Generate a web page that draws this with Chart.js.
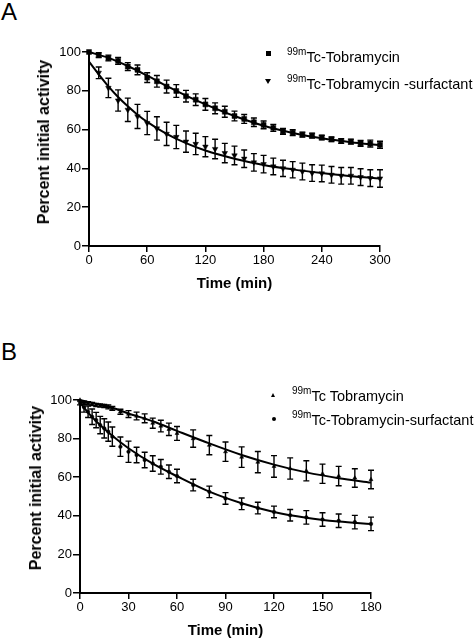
<!DOCTYPE html>
<html><head><meta charset="utf-8">
<script src="https://cdn.jsdelivr.net/npm/chart.js@4.4.1/dist/chart.umd.min.js"></script>
<style>
html,body{margin:0;padding:0;background:#fff;}
body{width:474px;height:640px;position:relative;overflow:hidden;font-family:'Liberation Sans',Arial,sans-serif;color:#000;}
canvas{position:absolute;left:0;}
.panel{position:absolute;left:1px;font-size:24px;line-height:24px;}
.leg{position:absolute;font-size:14.5px;line-height:15px;white-space:nowrap;}
.leg span{font-size:10px;position:relative;top:-7px;}
.mk{position:absolute;width:0;height:0;}
.ytitle{position:absolute;font-size:16px;font-weight:bold;line-height:16px;white-space:nowrap;transform:translate(-50%,-50%) rotate(-90deg);}
</style></head><body>
<div class="panel" style="top:0px">A</div>
<canvas id="cA" width="474" height="300" style="top:0px"></canvas>
<div class="ytitle" style="left:44px;top:142px">Percent initial activity</div>
<div class="mk" style="left:265.5px;top:50.5px;width:5px;height:5px;background:#000"></div>
<div class="leg" style="left:287px;top:49.5px"><span>99m</span>Tc-Tobramycin</div>
<div class="mk" style="left:265px;top:79px;border-left:3px solid transparent;border-right:3px solid transparent;border-top:5px solid #000"></div>
<div class="leg" style="left:287px;top:77px"><span>99m</span>Tc-Tobramycin -surfactant</div>

<div class="panel" style="top:340px">B</div>
<canvas id="cB" width="474" height="310" style="top:330px"></canvas>
<div class="ytitle" style="left:36px;top:488px">Percent initial activity</div>
<div class="mk" style="left:271px;top:393px;border-left:2.5px solid transparent;border-right:2.5px solid transparent;border-bottom:4px solid #000"></div>
<div class="leg" style="left:292px;top:389px"><span>99m</span>Tc Tobramycin</div>
<div class="mk" style="left:271.5px;top:416.5px;width:4px;height:4px;border-radius:50%;background:#000"></div>
<div class="leg" style="left:292px;top:412.5px"><span>99m</span>Tc-Tobramycin-surfactant</div>

<script>
// ---------- Panel A data ----------
const timeA = [0,10,20,30,40,50,60,70,80,90,100,110,120,130,140,150,160,170,180,190,200,210,220,230,240,250,260,270,280,290,300];
const tobraA = [100,98.4,96.9,95.4,92.5,90.8,86.8,84.9,82.2,79.9,77.2,75.4,73.0,71.0,69.2,67.0,65.5,63.8,62.4,60.9,59.1,58.4,57.4,56.9,55.9,55.0,54.1,53.8,52.9,52.8,52.2];
const tobraA_sd = [0,1.2,1.5,1.8,2,2.5,2.5,3,3.3,3.3,3,3,3,2.8,2.8,2.5,2.3,2.2,2,1.8,1.5,1.5,1.3,1.3,1.2,1.2,1.2,1.3,1.5,1.8,1.8];
const surfA = [null,89.3,81.5,75.0,70.2,66.8,63.4,60.6,57.8,56.2,53.8,52.6,51.2,50.0,47.9,46.7,45.0,43.1,42.2,41.0,40.0,39.3,38.4,37.6,37.4,36.7,36.2,36.2,35.5,35.0,34.8];
const surfA_sd = [0,3,5,5.5,6,6.2,6,6,6,6,5.5,5.5,5.2,5,5,4.8,4.5,4.5,4.5,4.3,4.2,4.2,4.3,4.3,4.3,4.3,4.3,4.3,4.3,4.3,4.5];
const fitTimeA1 = [0,20,40,60,80,100,120,150,180,210,240,270,300];
const fitTobraA = [100,97,92.8,87.8,82.5,77.5,73,67,62,58.3,55.5,53.5,52];
const fitTimeA2 = [0,10,20,30,40,50,60,80,100,120,150,180,210,240,270,300];
const fitSurfA = [95,88.5,82.3,76.8,72,67.7,64,57.8,53,49.2,45,41.8,39.5,37.6,36,34.8];
const xTicksA = [0,60,120,180,240,300];

// ---------- Panel B data ----------
const timeB = [0,2.5,5,7.5,10,12.5,15,17.5,20,25,30,35,40,45,50,55,60,70,80,90,100,110,120,130,140,150,160,170,180];
const tobraB = [100,98.6,98.3,97.9,97.4,97.1,96.9,96.4,95.7,93.9,92.7,91.7,90.5,88.0,86.5,84.8,82.7,80.0,76.6,73.2,70.4,67.8,65.6,64.5,63.3,61.8,60.6,59.6,58.8];
const tobraB_sd = [0,0.8,0.8,0.8,0.8,0.8,0.8,1,1,1.3,1.8,2,2.3,2.6,3,3.2,3.6,4.5,5,5,5.3,5.5,5.6,5.5,5.2,5,5,4.8,4.8];
const surfB = [98.5,96.2,93.9,91.3,89.6,87.0,85.3,83.6,81.0,75.8,73.2,71.5,68.9,67.1,65.4,62.8,60.6,55.9,52.4,49.0,46.2,44.0,42.0,40.3,39.2,38.1,37.4,36.7,35.8];
const surfB_sd = [1,2.5,3,4,4,4.5,5,5,5,5,5.5,4,4,4,3.8,3.5,3.5,3,3,3,3,3,3,3,3.5,3.5,3.5,3.5,3.5];
const fitTimeB1 = [0,10,20,30,45,60,80,100,120,140,160,180];
const fitTobraB = [100,98,96,93,89,84,77.5,71.5,66.5,62.5,59.5,57.2];
const fitTimeB2 = [0,5,10,20,30,45,60,80,100,120,140,160,180];
const fitSurfB = [98.5,93.5,89,81.5,75,67,60.5,52.5,46.5,42,39,37,35.7];
const xTicksB = [0,30,60,90,120,150,180];

const yTicks = [0,20,40,60,80,100];

const F = "'Liberation Sans', Arial, sans-serif";

function pts(xs, ys, es) {
  const out = [];
  xs.forEach((x, i) => { if (ys[i] != null) out.push({x: x, y: ys[i], e: es ? es[i] : 0}); });
  return out;
}

const errorBars = {
  id: 'errorBars',
  afterDatasetsDraw(chart) {
    const ctx = chart.ctx, ys = chart.scales.y;
    chart.data.datasets.forEach((ds, di) => {
      if (!ds.errorBars) return;
      const meta = chart.getDatasetMeta(di);
      ctx.save();
      ctx.strokeStyle = '#000';
      ctx.lineWidth = 1.4;
      meta.data.forEach((el, i) => {
        const d = ds.data[i];
        if (!d.e) return;
        const x = el.x;
        const y1 = ys.getPixelForValue(d.y + d.e);
        const y2 = ys.getPixelForValue(d.y - d.e);
        const w = ds.capWidth;
        ctx.beginPath();
        ctx.moveTo(x, y1); ctx.lineTo(x, y2);
        ctx.moveTo(x - w, y1); ctx.lineTo(x + w, y1);
        ctx.moveTo(x - w, y2); ctx.lineTo(x + w, y2);
        ctx.stroke();
      });
      ctx.restore();
    });
  }
};

function scales(xTicks, xMax, yW, xH, xTitlePad) {
  return {
    x: {
      type: 'linear', min: 0, max: xMax,
      afterBuildTicks: s => { s.ticks = xTicks.map(v => ({value: v})); },
      afterFit: s => { s.height = xH; },
      ticks: {color: '#000', font: {family: F, size: 13}, padding: 1, maxRotation: 0, autoSkip: false},
      grid: {drawOnChartArea: false, color: '#000', lineWidth: 1.5, tickLength: 6},
      border: {color: '#000', width: 2},
      title: {display: true, text: 'Time (min)', color: '#000', font: {family: F, size: 15, weight: 'bold'}, padding: {top: 0, bottom: xTitlePad}}
    },
    y: {
      type: 'linear', min: 0, max: 100,
      afterBuildTicks: s => { s.ticks = yTicks.map(v => ({value: v})); },
      afterFit: s => { s.width = yW; },
      ticks: {color: '#000', font: {family: F, size: 13}, padding: 1},
      grid: {drawOnChartArea: false, color: '#000', lineWidth: 1.5, tickLength: 7},
      border: {color: '#000', width: 2},
      title: {display: false}
    }
  };
}

function fitDs(xs, ys) {
  return {data: pts(xs, ys), showLine: true, pointRadius: 0, borderColor: '#000', borderWidth: 2,
          cubicInterpolationMode: 'monotone', fill: false, clip: false};
}
function ptDs(xs, ys, es, style, r, rot, cap) {
  return {data: pts(xs, ys, es), showLine: false, pointStyle: style, pointRadius: r, pointRotation: rot,
          pointBackgroundColor: '#000', pointBorderColor: '#000', pointBorderWidth: 0.5,
          errorBars: true, capWidth: cap, clip: false};
}

function baseOpts(pad, sc) {
  return {
    responsive: false, animation: false, devicePixelRatio: 1,
    layout: {padding: pad},
    plugins: {legend: {display: false}, tooltip: {enabled: false}},
    scales: sc
  };
}

new Chart(document.getElementById('cA'), {
  type: 'scatter',
  data: {datasets: [
    fitDs(fitTimeA1, fitTobraA),
    fitDs(fitTimeA2, fitSurfA),
    ptDs(timeA, tobraA, tobraA_sd, 'rect', 3.5, 0, 3),
    ptDs(timeA, surfA, surfA_sd, 'triangle', 3.2, 180, 3)
  ]},
  options: baseOpts({left: 0, right: 94, top: 52, bottom: 0}, scales(xTicksA, 300, 89, 54, 7)),
  plugins: [errorBars]
});

new Chart(document.getElementById('cB'), {
  type: 'scatter',
  data: {datasets: [
    fitDs(fitTimeB1, fitTobraB),
    fitDs(fitTimeB2, fitSurfB),
    ptDs(timeB, tobraB, tobraB_sd, 'triangle', 2.3, 0, 3),
    ptDs(timeB, surfB, surfB_sd, 'circle', 1.8, 0, 3)
  ]},
  options: baseOpts({left: 0, right: 103, top: 70, bottom: 0}, scales(xTicksB, 180, 80, 47, 0)),
  plugins: [errorBars]
});
</script>
</body></html>
